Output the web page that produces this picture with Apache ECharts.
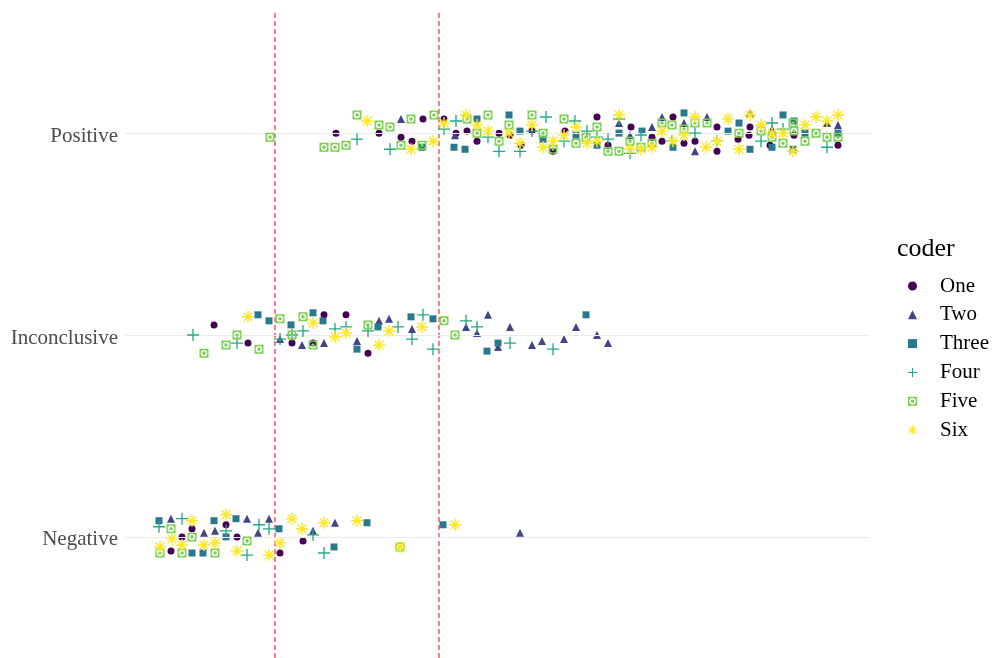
<!DOCTYPE html>
<html>
<head>
<meta charset="utf-8">
<script src="https://cdn.jsdelivr.net/npm/echarts@6/dist/echarts.min.js"></script>
<style>html,body{margin:0;padding:0;background:#fff}#c{width:992px;height:658px}</style>
</head>
<body>
<div id="c"></div>
<script>
const categories = ['Negative', 'Inconclusive', 'Positive'];
const coders = ['One', 'Two', 'Three', 'Four', 'Five', 'Six'];
const colors = ['#440154', '#414487', '#2A788E', '#22A884', '#7AD151', '#FDE725'];
const cutoffs = [10, 26.4];

const one = [
[16.1,3.00],[20.4,3.00],[22.6,2.98],[23.7,2.96],[24.8,3.07],[26.9,3.07],[28.1,3.00],[29.2,3.01],[30.2,2.96],[32.4,3.00],[33.5,2.99],[34.6,2.94],[35.7,3.01],[37.8,2.91],[39.0,3.01],[42.2,3.08],[43.3,2.94],[45.6,3.03],[47.7,2.98],[48.7,2.96],[49.8,3.08],[50.9,2.95],[52.0,2.96],[54.2,3.03],[54.2,2.91],[56.3,2.97],[57.4,2.99],[57.5,3.03],[59.5,2.94],[61.9,2.99],[66.3,2.94],
[3.9,2.05],[7.3,1.96],[11.7,1.96],[13.8,1.96],[14.9,2.10],[17.1,2.10],[19.3,1.91],
[-0.4,0.93],[0.7,1.00],[1.7,1.04],[5.1,1.06],[6.2,1.00],[10.5,0.92],[12.8,0.98]
];
const two = [
[22.6,3.07],[28.0,2.99],[44.4,3.05],[45.5,2.99],[47.7,3.03],[48.7,3.08],[50.9,3.05],[53.2,3.08],[57.5,3.10],[59.7,3.02],[52.0,2.91],[65.2,3.05],[66.3,3.04],
[10.5,1.98],[12.7,1.95],[14.9,1.96],[18.2,1.97],[20.4,2.07],[21.4,2.08],[23.7,2.03],[29.1,2.04],[31.3,2.10],[30.2,2.01],[33.5,2.04],[32.3,1.94],[35.7,1.95],[36.7,1.97],[38.9,1.98],[40.1,2.04],[42.2,2.00],[43.3,1.96],
[-0.4,1.09],[2.9,1.02],[4.0,1.03],[7.2,1.09],[8.3,1.02],[9.4,1.09],[13.8,1.03],[16.0,1.07],[34.5,1.02]
];
const three = [
[24.7,2.93],[27.9,2.93],[29.0,2.92],[30.2,3.07],[33.4,3.09],[34.5,3.01],[36.8,2.97],[40.1,2.99],[42.2,2.94],[44.4,3.00],[46.7,3.01],[49.8,2.93],[50.9,3.10],[55.3,3.01],[56.4,3.05],[57.5,2.92],[59.7,2.93],[60.8,3.09],[61.8,2.92],[61.9,3.06],[63.0,3.00],[66.3,3.00],
[8.3,2.10],[9.4,2.07],[11.6,2.05],[13.8,2.11],[14.8,2.07],[18.2,1.93],[20.3,2.04],[23.6,2.09],[25.8,2.08],[31.2,1.92],[32.3,1.96],[41.1,2.10],
[-1.6,1.08],[1.7,0.92],[2.8,0.92],[3.9,1.08],[5.1,1.00],[6.1,1.09],[10.4,1.04],[15.9,0.95],[19.2,1.07],[26.8,1.06]
];
const four = [
[18.2,2.97],[21.5,2.92],[26.9,3.02],[28.1,3.06],[31.3,2.98],[32.4,2.91],[34.5,2.91],[35.7,3.01],[37.1,3.08],[38.9,2.96],[40.0,3.06],[41.2,3.01],[42.2,2.98],[43.3,2.97],[44.4,3.07],[45.5,2.90],[46.6,2.99],[49.7,2.96],[52.0,3.00],[54.2,2.96],[58.6,2.96],[59.7,3.05],[60.8,3.02],[65.2,2.93],
[1.8,2.00],[6.2,1.96],[10.5,1.98],[11.7,2.00],[12.8,2.02],[16.0,2.03],[17.1,2.04],[19.3,2.02],[22.3,2.04],[23.7,1.98],[24.8,2.10],[25.8,1.93],[29.1,2.07],[30.2,2.04],[33.5,1.96],[37.8,1.93],
[-1.6,1.05],[0.7,1.09],[5.1,1.03],[7.2,0.91],[8.4,1.06],[9.4,1.04],[13.8,1.01],[14.9,0.92]
];
const five = [
[9.5,2.98],[14.9,2.93],[16.0,2.93],[17.1,2.94],[18.2,3.09],[20.4,3.04],[21.5,3.03],[22.6,2.94],[23.6,3.07],[24.7,2.94],[25.9,3.09],[29.2,3.07],[30.2,3.00],[31.3,3.09],[32.4,2.96],[33.4,3.04],[35.7,3.09],[36.8,3.00],[37.8,2.92],[38.9,3.07],[40.1,2.95],[41.1,2.98],[42.2,3.03],[43.3,2.91],[44.4,2.91],[45.5,2.96],[46.6,2.93],[47.7,2.95],[48.7,3.05],[49.7,3.04],[50.9,3.02],[52.0,3.05],[53.2,3.05],[56.4,3.00],[58.6,3.01],[59.7,2.98],[60.8,2.95],[61.8,3.05],[61.9,3.01],[63.0,2.96],[64.1,3.00],[65.2,2.98],[66.3,2.98],
[2.9,1.91],[5.1,1.95],[6.2,2.00],[8.4,1.93],[10.5,2.08],[11.7,2.00],[12.8,2.09],[13.8,1.95],[19.3,2.05],[26.9,2.07],[28.0,2.00],
[-1.5,0.92],[-0.4,1.04],[0.7,0.92],[1.7,1.00],[4.0,0.92],[7.2,0.98],[22.5,0.95]
];
const six = [
[19.2,3.06],[23.6,2.92],[25.8,2.96],[26.9,3.05],[29.1,3.09],[30.2,3.04],[31.3,3.01],[33.4,3.00],[34.5,2.95],[35.7,3.04],[36.8,2.93],[37.8,2.96],[38.9,2.99],[40.1,3.03],[41.2,2.95],[42.2,2.96],[44.4,3.09],[45.5,2.92],[46.6,2.92],[47.7,2.93],[48.7,3.01],[49.8,2.96],[50.9,2.99],[52.0,3.08],[53.1,2.93],[54.2,2.96],[55.3,3.07],[56.4,2.92],[57.5,3.09],[58.6,3.04],[59.7,3.00],[60.8,3.00],[61.8,2.91],[63.0,3.04],[64.1,3.08],[65.2,3.06],[66.3,3.09],
[7.3,2.09],[13.8,2.06],[16.0,1.99],[17.1,2.01],[20.4,1.95],[21.4,2.02],[24.7,2.04],
[-1.5,0.95],[-0.3,0.99],[0.7,0.96],[1.7,1.08],[2.9,0.96],[4.0,0.97],[5.1,1.11],[6.2,0.93],[9.4,0.91],[10.5,0.97],[11.7,1.09],[12.7,1.04],[14.9,1.07],[18.2,1.08],[22.5,0.95],[28.0,1.06]
];
const seriesData = [one, two, three, four, five, six];

// symbol shapes
function bar(angleDeg, thick) {
  const a = angleDeg * Math.PI / 180, c = Math.cos(a), s = Math.sin(a);
  const pts = [[-50,-thick/2],[50,-thick/2],[50,thick/2],[-50,thick/2]].map(p =>
    [(50 + p[0]*c - p[1]*s).toFixed(2), (50 + p[0]*s + p[1]*c).toFixed(2)]);
  return 'M' + pts.map(p => p.join(',')).join('L') + 'Z';
}
const plusPath = 'path://' + bar(0, 11) + bar(90, 11);
const starPath = 'path://' + bar(0, 12) + bar(45, 12) + bar(90, 12) + bar(135, 12);
const ringSquarePath = 'path://M0,0H100V100H0Z' +
  'M50,14A36,36 0 1,0 50,86A36,36 0 1,0 50,14Z' +
  'M50,30A20,20 0 1,1 50,70A20,20 0 1,1 50,30Z';
const symbols = ['circle', 'triangle', 'rect', plusPath, ringSquarePath, starPath];
const sizes = [7, 8, 7, 12, 9, 12];

const chart = echarts.init(document.getElementById('c'), null, {renderer: 'canvas'});
const serif = '"Liberation Serif", "DejaVu Serif", serif';

const series = [{
  type: 'line', data: [], z: 1, silent: true,
  markLine: {
    silent: true, symbol: 'none', label: {show: false}, animation: false,
    lineStyle: {color: '#ebebeb', width: 1, type: 'solid'},
    data: [1, 2, 3].map(v => ({yAxis: v}))
  }
}];
cutoffs.forEach(v => {
  series.push({
    type: 'line', silent: true, z: 1, symbol: 'none', showSymbol: false,
    data: [[v, 0.4], [v, 3.6]],
    lineStyle: {color: '#ff0000', width: 1, type: [5, 3]},
    itemStyle: {color: '#ff0000'}
  });
});
coders.forEach((name, i) => {
  series.push({
    name: name, type: 'scatter', data: seriesData[i], z: 2 + i,
    symbol: symbols[i], symbolSize: sizes[i],
    itemStyle: {color: colors[i], opacity: 1}
  });
});

chart.setOption({
  animation: false,
  backgroundColor: '#ffffff',
  color: colors,
  title: {
    text: 'coder', left: 892, top: 231,
    textStyle: {fontFamily: serif, fontSize: 26, fontWeight: 'normal', color: '#000'}
  },
  legend: {
    data: coders, orient: 'vertical', left: 903, top: 270,
    itemWidth: 9, itemHeight: 9, itemGap: 6.8,
    textStyle: {fontFamily: serif, fontSize: 21, color: '#000', lineHeight: 22, padding: [0, 0, 0, 18]}
  },
  grid: {left: 125, right: 122, top: 12, bottom: -5, containLabel: false},
  xAxis: {
    type: 'value', min: -5, max: 69.5,
    axisLine: {show: false}, axisTick: {show: false}, axisLabel: {show: false}, splitLine: {show: false}
  },
  yAxis: {
    type: 'value', min: 0.4, max: 3.6,
    axisLine: {show: false}, axisTick: {show: false}, splitLine: {show: false},
    axisLabel: {
      show: true, customValues: [1, 2, 3], margin: 7,
      fontFamily: serif, fontSize: 21, color: '#4d4d4d',
      verticalAlign: 'top', lineHeight: 6,
      formatter: v => categories[Math.round(v) - 1] || ''
    }
  },
  series: series
});
</script>
</body>
</html>
